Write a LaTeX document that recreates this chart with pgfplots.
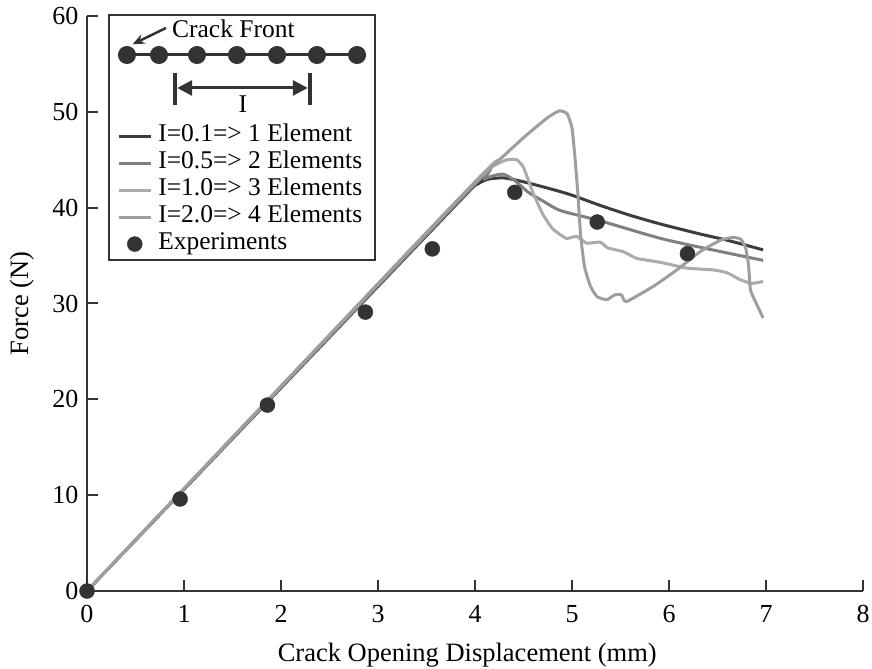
\documentclass[border=0pt]{standalone}
\usepackage{fontspec}
\setmainfont{Liberation Serif}
\usepackage{pgfplots}
\pgfplotsset{compat=1.18}
\usetikzlibrary{arrows.meta}
\definecolor{cA}{gray}{0.24}
\definecolor{cB}{gray}{0.50}
\definecolor{cC}{gray}{0.67}
\definecolor{cD}{gray}{0.62}
\definecolor{cDot}{gray}{0.2}
\begin{document}
\begin{tikzpicture}
\begin{axis}[
  scale only axis, width=776pt, height=575pt,
  xmin=0, xmax=8, ymin=0, ymax=60,
  axis lines=left, axis line style={-, line width=2.5pt, color=cDot},
  xtick={0,1,...,8}, ytick={0,10,...,60},
  tick align=inside, major tick length=11pt,
  tick style={line width=2pt, color=cDot},
  /pgf/number format/assume math mode=true,
  tick label style={font=\fontsize{26}{30}\selectfont},
  yticklabel style={xshift=-5pt},
  xticklabel style={yshift=-11pt},
  label style={font=\fontsize{26.5}{30}\selectfont},
  xlabel={Crack Opening Displacement (mm)},
  ylabel={Force (N)},
  xlabel style={at={(axis description cs:0.49,-0.111)}, anchor=center},
  ylabel style={at={(axis description cs:-0.084,0.5)}, anchor=center},
  clip=false,
  legend style={at={(axis cs:0.31,48.9)}, anchor=north west, draw=none, fill=none,
    inner sep=0pt, font=\fontsize{25.5}{27}\selectfont, row sep=0pt, column sep=5pt,
    nodes={inner sep=1pt, text height=17.5pt, text depth=7.5pt}},
  legend cell align=left,
  legend image code/.code={\draw[mark repeat=2,mark phase=2,#1] plot coordinates {(0pt,0pt) (16pt,0pt) (32pt,0pt)};},
]
\coordinate (O) at (rel axis cs:0,0);
\coordinate (T) at (rel axis cs:1,1);
% legend frame and diagram
\draw[line width=2pt, color=cDot] (axis cs:0.227,34.54) rectangle (axis cs:2.969,60.1);
\addplot[forget plot, color=cDot, line width=3pt, mark=*, mark size=7.5pt, mark options={solid}]
  coordinates {(0.412,55.93) (0.742,55.93) (1.134,55.93) (1.546,55.93) (1.959,55.93) (2.371,55.93) (2.784,55.93)};
\node[anchor=base west, font=\fontsize{25.5}{27}\selectfont, inner sep=0pt] at (axis cs:0.876,57.8) {Crack Front};
\draw[line width=2.5pt, color=cDot, -{Stealth[length=12pt,width=10pt]}] (axis cs:0.814,58.75) -- (axis cs:0.47,57.05);
\draw[line width=4pt, color=cDot] (axis cs:0.907,54.05) -- (axis cs:0.907,50.71);
\draw[line width=4pt, color=cDot] (axis cs:2.299,54.05) -- (axis cs:2.299,50.71);
\draw[line width=3pt, color=cDot, {Triangle[length=15pt,width=15pt]}-{Triangle[length=15pt,width=15pt]}] (axis cs:0.93,52.49) -- (axis cs:2.276,52.49);
\node[anchor=base, font=\fontsize{25.5}{27}\selectfont, inner sep=0pt] at (axis cs:1.608,49.9) {I};
% series
\addplot[color=cA, line width=3pt, smooth, tension=0.4] coordinates {
 (0,0) (3.9,41.3) (4.05,42.6) (4.15,43.0) (4.3,43.1) (4.5,42.7) (4.8,41.9) (5.0,41.3)
 (5.3,40.2) (5.6,39.2) (5.91,38.3) (6.3,37.3) (6.6,36.6) (6.97,35.6)};
\addlegendentry{I=0.1=> 1 Element}
\addplot[color=cB, line width=3pt, smooth, tension=0.4] coordinates {
 (0,0) (3.9,41.4) (4.1,43.0) (4.28,43.5) (4.4,42.9) (4.55,41.6) (4.7,40.7) (4.88,39.7)
 (5.3,38.6) (5.91,36.8) (6.4,35.7) (6.97,34.5)};
\addlegendentry{I=0.5=> 2 Elements}
\addplot[color=cC, line width=3pt, smooth, tension=0.3] coordinates {
 (0,0) (4.0,42.7) (4.2,44.4) (4.33,45.0) (4.43,45.0) (4.5,44.2) (4.6,41.5) (4.7,39.3)
 (4.8,37.8) (4.94,36.8) (5.05,37.0) (5.15,36.3) (5.29,36.4) (5.37,35.8) (5.53,35.4)
 (5.67,34.7) (5.91,34.3) (6.18,33.7) (6.46,33.5) (6.6,33.2) (6.73,32.5) (6.85,32.1) (6.97,32.3)};
\addlegendentry{I=1.0=> 3 Elements}
\addplot[color=cD, line width=3pt, smooth, tension=0.3] coordinates {
 (0,0) (3.5,37.4) (4.0,42.6) (4.5,47.3) (4.75,49.4) (4.87,50.1) (4.95,49.8) (5.0,48.3)
 (5.03,45.3) (5.06,41.5) (5.09,37.0) (5.13,33.8) (5.19,31.8) (5.26,30.7) (5.36,30.4) (5.44,30.9)
 (5.51,30.9) (5.56,30.2) (5.84,31.8) (6.08,33.5) (6.32,35.4) (6.53,36.6) (6.66,36.9)
 (6.74,36.7) (6.79,35.8) (6.82,34.0) (6.84,31.4) (6.9,30.0) (6.97,28.5)};
\addlegendentry{I=2.0=> 4 Elements}
\addplot[only marks, mark=*, mark size=7.5pt, color=cDot] coordinates {
 (0,0) (0.96,9.6) (1.86,19.4) (2.87,29.1) (3.56,35.7) (4.41,41.6) (5.26,38.5) (6.19,35.2)};
\addlegendentry{Experiments}
\end{axis}
\pgfresetboundingbox
\path ([shift={(-87pt,-77pt)}]O) rectangle ([shift={(9pt,16pt)}]T);
\end{tikzpicture}
\end{document}
